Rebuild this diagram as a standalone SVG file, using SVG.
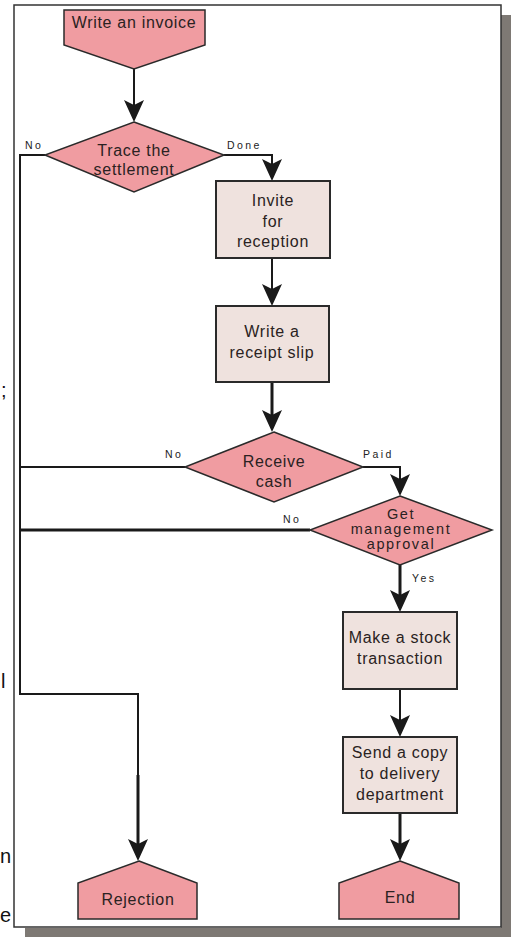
<svg xmlns="http://www.w3.org/2000/svg" width="511" height="937" viewBox="0 0 511 937">
<style>
.term{fill:#f09ca1;stroke:#2a2a2a;stroke-width:1.5}
.box{fill:#efe2de;stroke:#2a2a2a;stroke-width:2}
.t{font-family:"Liberation Sans",Arial,sans-serif;font-size:16px;letter-spacing:0.7px;fill:#2a2222;text-anchor:middle}
.ts{font-family:"Liberation Sans",Arial,sans-serif;font-size:14.5px;letter-spacing:1.6px;fill:#2a2222;text-anchor:middle}
.lbl{font-family:"Liberation Sans",Arial,sans-serif;font-size:10.5px;letter-spacing:2.4px;fill:#222}
.stray{font-family:"Liberation Sans",Arial,sans-serif;font-size:20px;fill:#111}
.c{fill:none;stroke:#1a1a1a;stroke-width:2}
.c3{fill:none;stroke:#1a1a1a;stroke-width:3}
</style>
<defs>
<path id="ah" d="M0,0 L-10,-22 L0,-17 L10,-22 Z" fill="#1a1a1a"/>
</defs>
<rect x="0" y="0" width="511" height="937" fill="#ffffff"/>
<g id="frame">
<rect x="501" y="15" width="10" height="922" fill="#7e7974"/>
<rect x="25" y="928" width="486" height="9" fill="#7e7974"/>
<rect x="14" y="5" width="487" height="922" fill="#ffffff" stroke="#333" stroke-width="1.5"/>
</g>
<g id="stray-text">
<text class="stray" x="1" y="397">;</text>
<text class="stray" x="1" y="688">l</text>
<text class="stray" x="0" y="863">n</text>
<text class="stray" x="0" y="922">e</text>
</g>
<g id="connectors">
<path class="c" d="M134,69 V118"/>
<use href="#ah" transform="translate(134,122)"/>
<path class="c" d="M45,155 H20 V694 H138 V775"/>
<path class="c3" d="M138,775 V856"/>
<use href="#ah" transform="translate(138,861)"/>
<path class="c" d="M224,155 H272 V176"/>
<use href="#ah" transform="translate(272,181)"/>
<path class="c" d="M272,258 V300"/>
<use href="#ah" transform="translate(272,306)"/>
<path class="c3" d="M272,382 V426"/>
<use href="#ah" transform="translate(272,432)"/>
<path class="c" d="M185,467 H20"/>
<path class="c" d="M363,467 H400 V490"/>
<use href="#ah" transform="translate(400,496)"/>
<path class="c3" d="M310,530 H20"/>
<path class="c3" d="M400,565 V606"/>
<use href="#ah" transform="translate(400,612)"/>
<path class="c" d="M400,689 V731"/>
<use href="#ah" transform="translate(400,737)"/>
<path class="c3" d="M400,813 V856"/>
<use href="#ah" transform="translate(400,861)"/>
<text class="lbl" x="25" y="149">No</text>
<text class="lbl" x="227" y="149">Done</text>
<text class="lbl" x="165" y="458">No</text>
<text class="lbl" x="363" y="458">Paid</text>
<text class="lbl" x="283" y="523">No</text>
<text class="lbl" x="412" y="582">Yes</text>
</g>
<g id="write-invoice">
<path class="term" d="M64,10 H205 V45 L134,69 L64,45 Z"/>
<text class="t" x="134" y="28">Write an invoice</text>
</g>
<g id="trace-settlement">
<path class="term" d="M134,122 L224,155 L134,192 L45,155 Z"/>
<text class="t" x="134" y="156">Trace the</text>
<text class="t" x="134" y="175">settlement</text>
</g>
<g id="invite-reception">
<rect class="box" x="216" y="181" width="114" height="77"/>
<text class="t" x="273" y="206">Invite</text>
<text class="t" x="273" y="227">for</text>
<text class="t" x="273" y="247">reception</text>
</g>
<g id="write-receipt">
<rect class="box" x="216" y="306" width="113" height="76"/>
<text class="t" x="272" y="337">Write a</text>
<text class="t" x="272" y="358">receipt slip</text>
</g>
<g id="receive-cash">
<path class="term" d="M274,432 L363,467 L274,502 L185,467 Z"/>
<text class="t" x="274" y="467">Receive</text>
<text class="t" x="274" y="487">cash</text>
</g>
<g id="management-approval">
<path class="term" d="M400,496 L492,530 L400,565 L310,530 Z"/>
<text class="ts" x="401" y="519">Get</text>
<text class="ts" x="401" y="534">management</text>
<text class="ts" x="401" y="549">approval</text>
</g>
<g id="stock-transaction">
<rect class="box" x="343" y="612" width="114" height="77"/>
<text class="t" x="400" y="643">Make a stock</text>
<text class="t" x="400" y="664">transaction</text>
</g>
<g id="send-copy">
<rect class="box" x="343" y="737" width="114" height="76"/>
<text class="t" x="400" y="758">Send a copy</text>
<text class="t" x="400" y="779">to delivery</text>
<text class="t" x="400" y="800">department</text>
</g>
<g id="rejection">
<path class="term" d="M139,861 L197,883 V919 H78 V883 Z"/>
<text class="t" x="138" y="905">Rejection</text>
</g>
<g id="end">
<path class="term" d="M400,861 L459,883 V919 H339 V883 Z"/>
<text class="t" x="400" y="903">End</text>
</g>
</svg>
